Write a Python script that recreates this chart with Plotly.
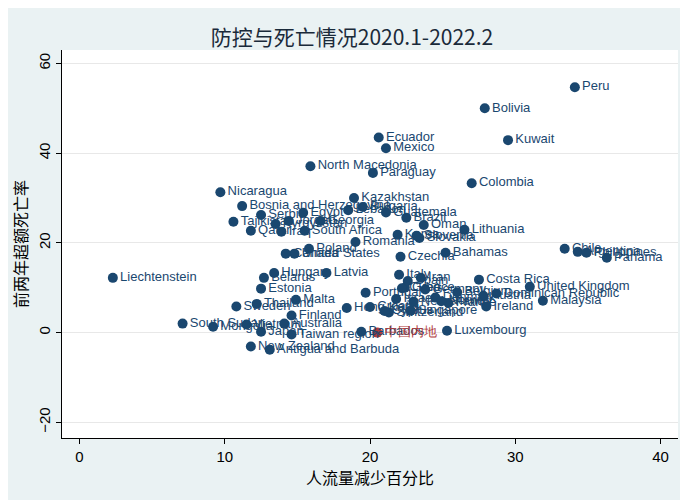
import plotly.graph_objects as go

names = ["Peru","Bolivia","Kuwait","Ecuador","Mexico","North Macedonia","Paraguay","Colombia",
 "Nicaragua","Kazakhstan","Bosnia and Herzegovina","Bulgaria","Serbia","Egypt","Lebanon","Guatemala","Brazil",
 "Tajikistan","Georgia","Kyrgyzstan","Jordan","Oman","Lithuania","Qatar","Iraq","South Africa","Romania",
 "Korea","Slovakia","Slovenia","Poland","United States","Canada","Czechia","Bahamas","Chile","Argentina",
 "Philippines","Panama","Liechtenstein","Hungary","Latvia","Belarus","Italy","Iran","Spain","Costa Rica",
 "Estonia","United Kingdom","Malaysia","Dominican Republic","Austria","Ireland","Malta","Thailand","Sweden",
 "Singapore","Hong Kong","Finland","France","Portugal","Israel","Croatia","Germany","Denmark","Greece",
 "Netherlands","Switzerland","Norway","Luxembourg","Barbados","Taiwan region","Japan","South Sudan",
 "Mongolia","Vietnam","Australia","New Zealand","Antigua and Barbuda","Cyprus","Belgium","Cuba","中国内地"]
x = [34.1,27.9,29.5,20.6,21.1,15.9,20.2,27.0,
 9.7,18.9,11.2,19.5,12.5,15.4,18.5,21.1,22.5,
 10.6,16.6,13.5,14.4,23.7,26.5,11.8,13.9,15.5,19.0,
 21.9,23.4,23.2,15.8,14.8,14.2,22.1,25.2,33.4,34.3,
 34.9,36.3,2.3,13.4,17.0,12.7,22.0,23.5,22.6,27.5,
 12.5,31.0,31.9,28.7,27.8,28.0,14.9,12.2,10.8,
 22.8,18.4,14.6,25.4,19.7,21.8,20.0,23.8,24.5,22.4,
 23.0,21.3,24.9,25.3,19.4,14.6,12.5,7.1,
 9.2,11.5,14.1,11.8,13.1,21.0,26.0,22.2,20.5]
y = [54.7,50.0,42.9,43.5,41.1,37.1,35.6,33.3,
 31.3,30.0,28.2,28.0,26.2,26.7,27.3,26.8,25.6,
 24.7,24.9,24.2,24.9,24.0,22.9,22.7,22.5,22.7,20.2,
 21.8,21.1,21.6,18.7,17.6,17.6,16.9,17.8,18.7,18.0,
 17.8,16.7,12.2,13.3,13.3,12.2,12.9,12.2,11.5,11.8,
 9.8,10.2,7.1,8.7,8.2,5.8,7.3,6.4,5.8,
 4.9,5.5,3.8,6.6,8.9,7.5,5.7,9.6,7.8,10.0,
 6.9,4.5,7.0,0.4,0.2,-0.4,0.2,2.0,
 1.3,1.8,2.0,-3.1,-3.8,4.8,9.0,9.9,0.0]

blue = "#1a476f"; red = "#b03a3a"
colors = [red if n == "中国内地" else blue for n in names]
fig = go.Figure(go.Scatter(x=x, y=y, mode="markers+text", text=names, textposition="middle right",
    marker=dict(color=colors, size=10), textfont=dict(color=colors, size=13), cliponaxis=False,
    hoverinfo="skip"))
fig.update_layout(
    width=688, height=500, paper_bgcolor="#eaf2f3", plot_bgcolor="white", showlegend=False,
    font=dict(family="Liberation Sans, Arial", color="#333"),
    title=dict(text="防控与死亡情况2020.1-2022.2", x=0.5, xanchor="center", y=0.955,
               font=dict(size=21, color="#1a2a3a", family="Noto Sans CJK SC, Liberation Sans")),
    margin=dict(l=54, r=18, t=42, b=70, autoexpand=False),
    xaxis=dict(range=[-1.2, 41.2], tickvals=[0,10,20,30,40], showgrid=False, zeroline=False,
               ticks="outside", ticklen=5, tickcolor="black", showline=True, linecolor="black",
               tickfont=dict(size=15, color="black"),
               title=dict(text="人流量减少百分比", font=dict(size=16, color="black", family="Noto Sans CJK SC"), standoff=5)),
    yaxis=dict(range=[-23.5, 63], tickvals=[-20,0,20,40,60], showgrid=True, gridcolor="#e8e8e8",
               zeroline=False, ticks="outside", ticklen=5, tickcolor="black", showline=True, linecolor="black",
               tickangle=-90, tickfont=dict(size=15, color="black"),
               title=dict(text="前两年超额死亡率", font=dict(size=16, color="black", family="Noto Sans CJK SC"), standoff=5)),
)
fig.write_html("out.html")
